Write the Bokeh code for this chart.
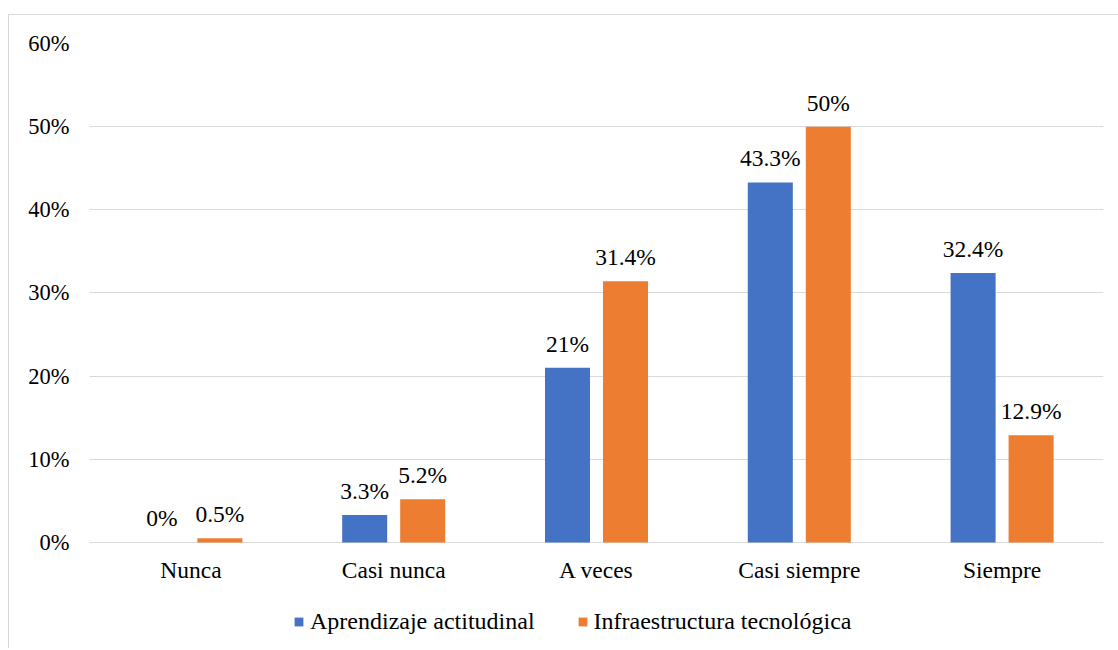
from bokeh.plotting import figure
from bokeh.models import ColumnDataSource, FactorRange, FixedTicker, Legend, LegendItem, Range1d
from bokeh.transform import dodge
from bokeh.core.properties import value
from bokeh.embed import file_html
from bokeh.resources import INLINE

categories = ["Nunca", "Casi nunca", "A veces", "Casi siempre", "Siempre"]
aprendizaje = [0, 3.3, 21, 43.3, 32.4]
infraestructura = [0.5, 5.2, 31.4, 50, 12.9]
y_ticks = [0, 10, 20, 30, 40, 50, 60]
y_tick_labels = ["0%", "10%", "20%", "30%", "40%", "50%", "60%"]
series_names = ["Aprendizaje actitudinal", "Infraestructura tecnológica"]
colors = ["#4472C4", "#ED7D31"]

FONT = "Liberation Serif"
FS = "23.5px"

src = ColumnDataSource(dict(
    cat=categories,
    a=aprendizaje,
    b=infraestructura,
    a_lab=[f"{v:g}%" for v in aprendizaje],
    b_lab=[f"{v:g}%" for v in infraestructura],
))

p = figure(
    x_range=FactorRange(*categories, range_padding=0),
    y_range=Range1d(-12.866, 60),
    width=1110, height=634,
    output_backend="svg", toolbar_location=None,
    min_border_left=80, min_border_right=16,
    min_border_top=28, min_border_bottom=0,
)
p.margin = (14, 0, 0, 8)
p.styles = {"border-left": "1px solid #d9d9d9", "border-top": "1px solid #d9d9d9"}

p.outline_line_color = None
p.background_fill_color = "white"
p.border_fill_color = "white"

off = 0.143
bw = 0.222
r1 = p.vbar(x=dodge("cat", -off, range=p.x_range), top="a", width=bw, source=src,
            fill_color=colors[0], line_color=None)
r2 = p.vbar(x=dodge("cat", off, range=p.x_range), top="b", width=bw, source=src,
            fill_color=colors[1], line_color=None)

p.text(x=dodge("cat", -off, range=p.x_range), y="a", text="a_lab", source=src,
       text_align="center", text_baseline="alphabetic", y_offset=-24,
       text_font=value(FONT), text_font_size=FS, text_color="#000000")
p.text(x=dodge("cat", off, range=p.x_range), y="b", text="b_lab", source=src,
       text_align="center", text_baseline="alphabetic", y_offset=-24,
       text_font=value(FONT), text_font_size=FS, text_color="#000000")

# category labels under the baseline
p.text(x="cat", y=0, text="cat", source=src,
       text_align="center", text_baseline="alphabetic", y_offset=28,
       text_font=value(FONT), text_font_size=FS, text_color="#000000")

ticker = FixedTicker(ticks=y_ticks)
p.xaxis.visible = False
p.xgrid.grid_line_color = None
p.ygrid.ticker = ticker
p.ygrid.grid_line_color = "#d9d9d9"
p.ygrid.grid_line_width = 1
p.yaxis.ticker = ticker
p.yaxis.major_label_overrides = {t: l for t, l in zip(y_ticks, y_tick_labels)}
p.yaxis.axis_line_color = None
p.yaxis.major_tick_line_color = None
p.yaxis.minor_tick_line_color = None
p.yaxis.major_label_standoff = 14
p.yaxis.major_label_text_font = FONT
p.yaxis.major_label_text_font_size = "22.5px"
p.yaxis.major_label_text_color = "#000000"

legend = Legend(
    items=[LegendItem(label=series_names[0], renderers=[r1]),
           LegendItem(label=series_names[1], renderers=[r2])],
    orientation="horizontal", location=(204, 14),
    glyph_width=11, glyph_height=11, label_standoff=6, spacing=42,
    label_text_font=FONT, label_text_font_size="24px", label_text_color="#000000",
    label_height=24, padding=0, margin=0,
    border_line_color=None, background_fill_alpha=0,
)
p.add_layout(legend, "center")

open("out.html", "w").write(file_html(p, INLINE))
